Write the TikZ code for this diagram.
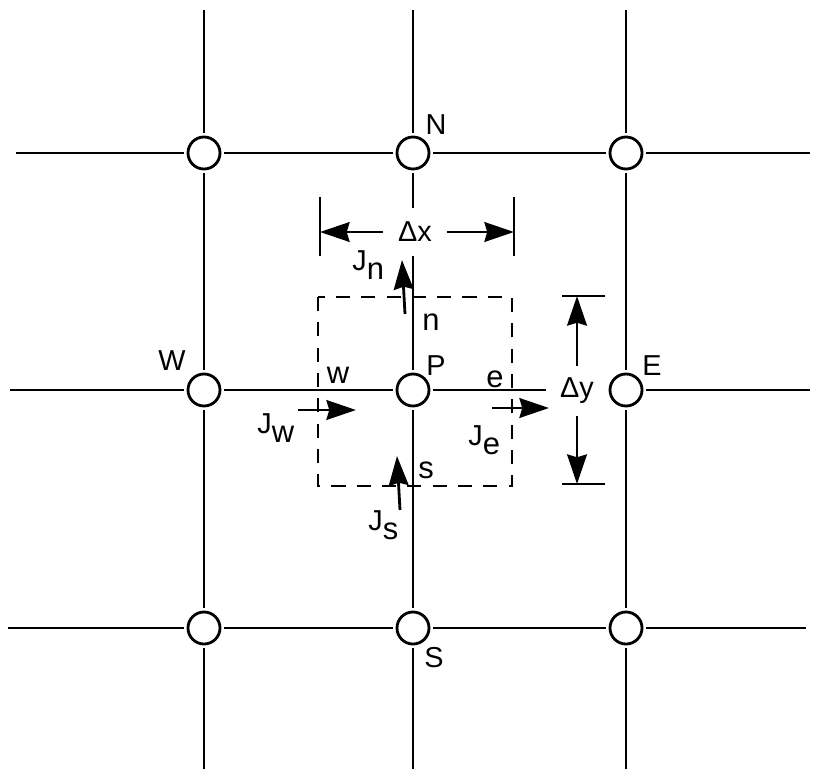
\documentclass[tikz,border=0pt]{standalone}
\usepackage{fontspec}
\setmainfont{Liberation Sans}
\usetikzlibrary{arrows.meta}
\newcommand{\flux}[1]{J\raisebox{-7pt}{\fontsize{22}{24}\selectfont #1}}

\begin{document}
\begin{tikzpicture}[x=0.025cm, y=-0.025cm, line width=2pt, >={Stealth[length=21pt, width=14pt, inset=2pt]}, font=\fontsize{20.5}{22}\selectfont,
  gridpt/.style={draw, circle, minimum size=0.8cm, inner sep=0pt, outer sep=3pt},
  face/.style={font=\fontsize{22}{24}\selectfont, inner sep=0pt},
  dimlabel/.style={fill=white, minimum width=1.55cm, minimum height=1.18cm, inner sep=0pt}]
  \useasboundingbox (0,0) rectangle (813,769);
  % grid points
  \node[gridpt] (nw) at (204,153) {};
  \node[gridpt] (N) at (413,153) {};
  \node[gridpt] (ne) at (626,153) {};
  \node[gridpt] (W) at (204,390) {};
  \node[gridpt] (P) at (413,390) {};
  \node[gridpt] (E) at (626,390) {};
  \node[gridpt] (sw) at (204,628) {};
  \node[gridpt] (S) at (413,628) {};
  \node[gridpt] (se) at (626,628) {};
  % free ends of the grid lines
  \coordinate (t1) at (204,10);  \coordinate (b1) at (204,769);
  \coordinate (t2) at (413,10);  \coordinate (b2) at (413,769);
  \coordinate (t3) at (626,10);  \coordinate (b3) at (626,769);
  \coordinate (l1) at (16,153);  \coordinate (r1) at (810,153);
  \coordinate (l2) at (10,390);  \coordinate (r2) at (810,390);
  \coordinate (l3) at (8,628);   \coordinate (r3) at (806,628);
  \foreach \a/\b in {t1/nw, nw/W, W/sw, sw/b1, t2/N, N/P, P/S, S/b2, t3/ne, ne/E, E/se, se/b3,
                     l1/nw, nw/N, N/ne, ne/r1, l2/W, W/P, P/E, E/r2, l3/sw, sw/S, S/se, se/r3}
    \draw (\a) -- (\b);
  % control volume
  \draw[dash pattern=on 10pt off 8pt] (318,297) rectangle (512,486);
  % dimensions
  \draw (320,197) -- (320,256);
  \draw (514,197) -- (514,256);
  \draw (562,296) -- (605,296);
  \draw (562,484) -- (605,484);
  \coordinate (dxl) at (320,232);  \coordinate (dxr) at (514,232);
  \coordinate (dyt) at (577,296);  \coordinate (dyb) at (577,484);
  \node[dimlabel] (dx) at (415,232) {Δx};
  \node[dimlabel] (dy) at (577,391) {Δy};
  \draw[->] (dx) -- (dxl);
  \draw[->] (dx) -- (dxr);
  \draw[->] (dy) -- (dyt);
  \draw[->] (dy) -- (dyb);
  % fluxes
  \coordinate (jw0) at (298,410);  \coordinate (jw1) at (356,410);
  \coordinate (je0) at (492,408);  \coordinate (je1) at (549,408);
  \coordinate (jn0) at (405,314);  \coordinate (jn1) at (402,260);
  \coordinate (js0) at (400,510);  \coordinate (js1) at (397,456);
  \draw[->] (jw0) -- (jw1);
  \draw[->] (je0) -- (je1);
  \draw[->] (jn0) -- (jn1);
  \draw[->] (js0) -- (js1);
  \node[anchor=base west, inner sep=0pt] (Jn) at (351,270) {\flux{n}};
  \node[anchor=base west, inner sep=0pt] (Jw) at (256,433) {\flux{w}};
  \node[anchor=base west, inner sep=0pt] (Je) at (467,445) {\flux{e}};
  \node[anchor=base west, inner sep=0pt] (Js) at (367,530) {\flux{s}};
  % labels
  \node (lN) at (436,125) {N};
  \node (lS) at (434,658) {S};
  \node (lW) at (172,361) {W};
  \node (lE) at (652,366) {E};
  \node (lP) at (436,366) {P};
  \node[face] (ln) at (431,322) {n};
  \node[face] (lw) at (338,375) {w};
  \node[face] (le) at (495,379) {e};
  \node[face] (ls) at (426,470) {s};
\end{tikzpicture}
\end{document}
